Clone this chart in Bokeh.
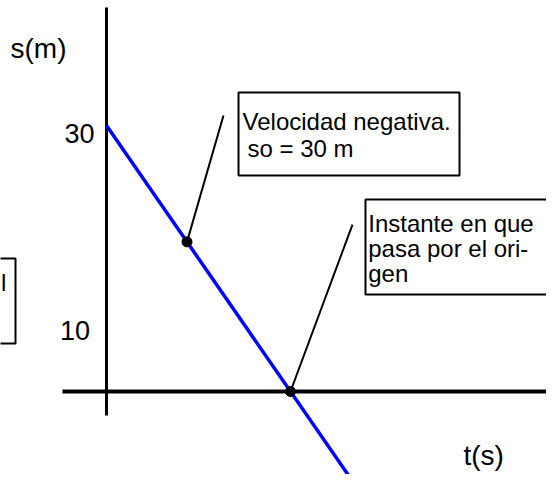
from bokeh.plotting import figure
from bokeh.models import Range1d
from bokeh.core.properties import value
from bokeh.embed import file_html
from bokeh.resources import INLINE

# --- data (schematic position-time chart) ---
t_line = [0.0, 5.4]          # t (s)
s_line = [30.0, -10.5]       # s (m)
t_points = [1.75, 4.0]
s_points = [16.875, 0.0]
tick_labels = ["30", "10"]
tick_values = [29.1, 6.88]
axis_titles = ["s(m)", "t(s)"]
box1_lines = ["Velocidad negativa.", "so = 30 m"]
box2_lines = ["Instante en que", "pasa por el ori-", "gen"]
box3_lines = ["l"]

FONT = value("Liberation Sans")

p = figure(width=546, height=474, output_backend="svg", toolbar_location=None,
           x_range=Range1d(-2.3043, 9.5652), y_range=Range1d(-9.361, 44.096),
           min_border=0, min_border_left=0, min_border_right=0,
           min_border_top=0, min_border_bottom=0)
p.axis.visible = False
p.grid.visible = False
p.outline_line_color = None
p.background_fill_color = "white"
p.border_fill_color = "white"

# axes drawn as lines
p.line([0, 0], [43.3, -2.71], line_color="black", line_width=3)
p.line([-0.957, 10.0], [0, 0], line_color="black", line_width=4)

# boxes
p.quad(left=[2.870], right=[7.674], top=[33.72], bottom=[24.36],
       fill_color="white", line_color="black", line_width=2)
p.quad(left=[5.630], right=[9.717], top=[21.65], bottom=[10.94],
       fill_color="white", line_color="black", line_width=2)
p.quad(left=[-2.6], right=[-1.978], top=[15.0], bottom=[5.41],
       fill_color="white", line_color="black", line_width=2)

# leader lines
p.line([t_points[0], 2.543], [s_points[0], 31.13], line_color="black", line_width=2)
p.line([t_points[1], 5.348], [s_points[1], 18.83], line_color="black", line_width=2)

# motion line
p.line(t_line, s_line, line_color="#0000FF", line_width=3.5)

# points
p.scatter(t_points, s_points, size=10, color="black")

# tick labels
p.text(x=[-0.26], y=[tick_values[0]], text=[tick_labels[0]], text_font=FONT,
       text_font_size="27px", text_align="right", text_baseline="alphabetic",
       text_color="black")
p.text(x=[-0.36], y=[tick_values[1]], text=[tick_labels[1]], text_font=FONT,
       text_font_size="27px", text_align="right", text_baseline="alphabetic",
       text_color="black")

# axis titles
p.text(x=[-2.087], y=[38.68], text=[axis_titles[0]], text_font=FONT,
       text_font_size="28px", text_align="left", text_baseline="alphabetic",
       text_color="black")
p.text(x=[7.76], y=[-7.2], text=[axis_titles[1]], text_font=FONT,
       text_font_size="28px", text_align="left", text_baseline="alphabetic",
       text_color="black")

# box texts
p.text(x=[2.957], y=[30.45], text=[box1_lines[0]], text_font=FONT,
       text_font_size="24px", text_align="left", text_baseline="alphabetic",
       text_color="black")
p.text(x=[3.065], y=[27.40], text=[box1_lines[1]], text_font=FONT,
       text_font_size="24px", text_align="left", text_baseline="alphabetic",
       text_color="black")
p.text(x=[5.69, 5.69, 5.69], y=[18.91, 16.09, 13.27], text=box2_lines,
       text_font=FONT, text_font_size="24px", text_align="left",
       text_baseline="alphabetic", text_color="black")
p.text(x=[-2.293], y=[12.29], text=box3_lines, text_font=FONT,
       text_font_size="24px", text_align="left", text_baseline="alphabetic",
       text_color="black")

open("out.html", "w").write(file_html(p, INLINE))
